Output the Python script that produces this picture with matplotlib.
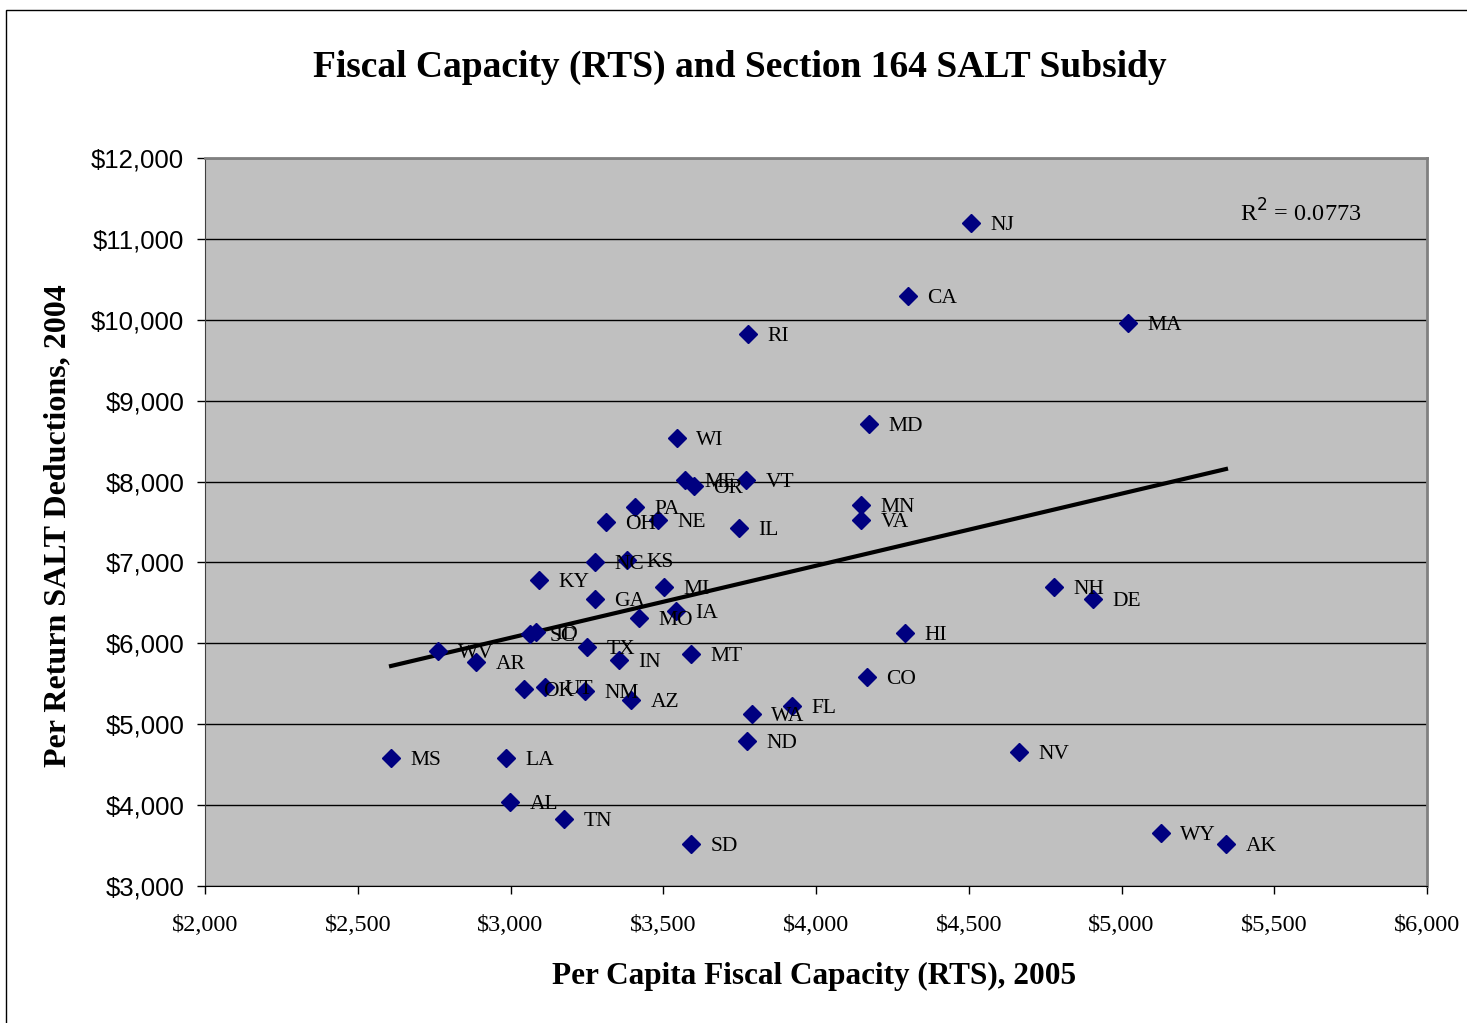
import numpy as np
import matplotlib
matplotlib.use("Agg")
import matplotlib.pyplot as plt
from matplotlib.patches import Rectangle

states = ["NJ", "CA", "MA", "RI", "MD", "WI", "ME", "OR", "VT", "PA", "OH", "NE",
          "IL", "MN", "VA", "NC", "KS", "KY", "GA", "MI", "IA", "MO", "SC", "ID",
          "WV", "AR", "TX", "IN", "MT", "HI", "NH", "DE", "CO", "OK", "UT", "NM",
          "AZ", "FL", "WA", "ND", "NV", "MS", "LA", "AL", "TN", "SD", "WY", "AK"]
capacity = [4507, 4301, 5021, 3777, 4173, 3545, 3571, 3601, 3771, 3408, 3313, 3483,
            3748, 4147, 4147, 3277, 3381, 3093, 3277, 3502, 3542, 3421, 3064, 3083,
            2763, 2887, 3250, 3355, 3591, 4291, 4779, 4907, 4167, 3044, 3113, 3244,
            3394, 3921, 3790, 3774, 4664, 2609, 2985, 2998, 3175, 3591, 5129, 5342]
salt = [11197, 10294, 9960, 9824, 8712, 8539, 8019, 7945, 8019, 7686, 7500, 7525,
        7426, 7710, 7525, 7006, 7030, 6783, 6548, 6697, 6400, 6313, 6116, 6140,
        5905, 5769, 5955, 5794, 5868, 6128, 6697, 6548, 5584, 5436, 5460, 5411,
        5300, 5225, 5127, 4793, 4657, 4583, 4583, 4039, 3828, 3519, 3655, 3519]

# linear trendline as drawn in the chart (fit includes states not shown)
trend_x = [2609, 5342]
trend_y = [5720, 8155]

serif = "Liberation Serif"
sans = "Liberation Sans"

fig = plt.figure(figsize=(14.67, 10.23), dpi=100)
ax = fig.add_axes([205 / 1467, 1 - 886 / 1023, 1222 / 1467, 728 / 1023])
ax.set_facecolor("#C0C0C0")

ax.set_xlim(2000, 6000)
ax.set_ylim(3000, 12000)
ax.set_xticks(np.arange(2000, 6001, 500))
ax.set_yticks(np.arange(3000, 12001, 1000))
ax.set_xticklabels(["${:,}".format(v) for v in range(2000, 6001, 500)],
                   fontfamily=serif, fontsize=17.5)
ax.set_yticklabels(["${:,}".format(v) for v in range(3000, 12001, 1000)],
                   fontfamily=sans, fontsize=18.5)
ax.tick_params(direction="out", length=6, width=1)
ax.tick_params(axis="x", pad=15)
ax.tick_params(axis="y", pad=9)
ax.grid(axis="y", color="black", linewidth=1)
ax.set_axisbelow(True)
for s in ["top", "right"]:
    ax.spines[s].set_color("#808080")
    ax.spines[s].set_linewidth(2)
ax.spines["left"].set_color("#404040")
ax.spines["bottom"].set_color("black")

ax.plot(trend_x, trend_y, color="black", linewidth=3, zorder=3)

ax.plot(capacity, salt, linestyle="none", marker="D", markersize=9, color="#000080", zorder=4)
for st, xi, yi in zip(states, capacity, salt):
    ax.annotate(st, (xi, yi), xytext=(14, -2), textcoords="offset points",
                va="center", ha="left", fontfamily=serif, fontsize=15.5, zorder=5)

ax.text(0.847, 0.924, r"R$^2$ = 0.0773", transform=ax.transAxes, fontfamily=serif,
        fontsize=17.5, va="center", ha="left")

fig.text(740 / 1467, 1 - 67 / 1023, "Fiscal Capacity (RTS) and Section 164 SALT Subsidy",
         ha="center", va="center", fontfamily=serif, fontweight="bold", fontsize=27)
fig.text(814 / 1467, 1 - 976 / 1023, "Per Capita Fiscal Capacity (RTS), 2005",
         ha="center", va="center", fontfamily=serif, fontweight="bold", fontsize=22.5)
fig.text(58 / 1467, 1 - 526 / 1023, "Per Return SALT Deductions, 2004", rotation=90,
         ha="center", va="center", fontfamily=serif, fontweight="bold", fontsize=23)

fig.patches.append(Rectangle((6 / 1467, -0.1), 1.2, 0.1 + 1 - 10 / 1023,
                             transform=fig.transFigure, fill=False,
                             edgecolor="black", linewidth=1))

fig.savefig("out.png", dpi=100)
